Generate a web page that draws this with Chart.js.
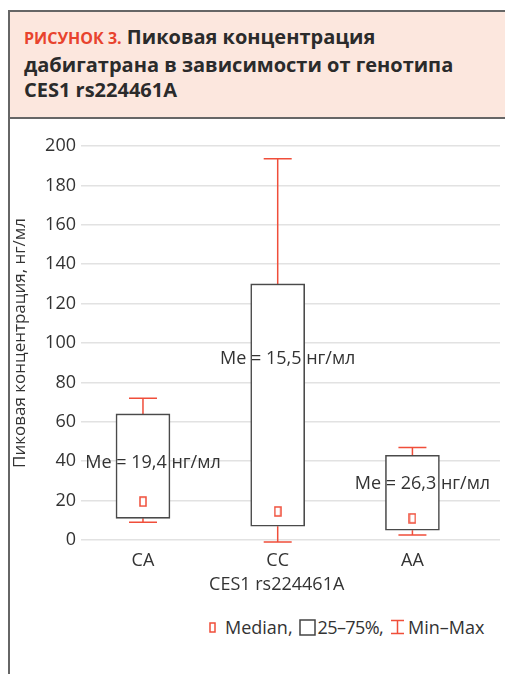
<!DOCTYPE html>
<html>
<head>
<meta charset="utf-8">
<script src="https://cdn.jsdelivr.net/npm/chart.js@4.4.0/dist/chart.umd.min.js"></script>
<style>
    body { margin: 0; width: 505px; height: 674px; overflow: hidden; background: #fff; font-family: "Open Sans", sans-serif; }
    #frame { position: absolute; left: 8px; top: 10px; width: 520px; height: 700px; border-left: 2px solid #666; border-top: 2px solid #666; }
    #head { position: absolute; left: 10px; top: 12px; width: 495px; height: 105px; background: #fce7de; border-bottom: 2px solid #666; }
    #head h1 { margin: 0; position: absolute; left: 14px; top: 12px; font-size: 20px; line-height: 25.5px; font-weight: 700; color: #2b2b2b; }
    #head h1 .fig { color: #e8432d; font-size: 16px; }
    #wrap { position: absolute; left: 10px; top: 120px; width: 495px; height: 481px; }
    #legend { position: absolute; left: 209px; top: 615px; font-size: 18px; color: #333; white-space: nowrap; display: flex; align-items: center; }
    #legend svg { display: block; }
</style>
</head>
<body>
<div id="frame"></div>
<div id="head"><h1><span class="fig">РИСУНОК 3.</span> Пиковая концентрация<br>дабигатрана в зависимости от генотипа<br>CES1 rs224461A</h1></div>
<div id="wrap"><canvas id="boxChart"></canvas></div>
<div id="legend">
    <svg width="7" height="11" style="margin-right:9px"><rect x="1" y="1" width="5" height="9" fill="#fff" stroke="#f04e3a" stroke-width="1.5"/></svg>
    <span style="margin-right:6px">Median,</span>
    <svg width="17" height="17" style="margin-right:2px"><rect x="1" y="1" width="15" height="15" fill="#fff" stroke="#444" stroke-width="1.5"/></svg>
    <span style="margin-right:7px;letter-spacing:-0.6px">25–75%,</span>
    <svg width="15" height="16" style="margin-right:3px"><path d="M1 1.5H14M7.5 1.5V14.5M1 14.5H14" stroke="#f04e3a" stroke-width="1.5" fill="none"/></svg>
    <span>Min–Max</span>
</div>

<script>
// ข้อมูลจากภาพ (ค่าประมาณ)
const categories = ['CA', 'CC', 'AA'];
const minVals = [9, -1, 2.5];
const q1Vals = [11, 7, 5];
const medianVals = [19.5, 14.5, 11];
const q3Vals = [64, 130, 43];
const maxVals = [72, 193.5, 47];
const medianLabels = ['Me = 19,4 нг/мл', 'Me = 15,5 нг/мл', 'Me = 26,3 нг/мл'];
const labelLevels = [39, 92, 28.5];
const yTicks = [0, 20, 40, 60, 80, 100, 120, 140, 160, 180, 200];

const RED = '#f04e3a';
const TEXT = '#333';
const FONT = '"Open Sans", sans-serif';

// marker ค่ามัธยฐาน (สี่เหลี่ยมกลวง)
const medMark = document.createElement('canvas');
medMark.width = 8; medMark.height = 11;
(() => {
    const c = medMark.getContext('2d');
    c.strokeStyle = RED; c.lineWidth = 1.5;
    c.fillStyle = '#fff';
    c.fillRect(1, 1, 6, 9);
    c.strokeRect(1, 1, 6, 9);
})();

// whiskers + labels
const boxExtras = {
    id: 'boxExtras',
    beforeDatasetsDraw(chart) {
        const { ctx, scales: { x, y } } = chart;
        ctx.save();
        ctx.strokeStyle = RED;
        ctx.lineWidth = 1.5;
        categories.forEach((c, i) => {
            const px = x.getPixelForValue(i);
            const cap = 14;
            ctx.beginPath();
            ctx.moveTo(px, y.getPixelForValue(q3Vals[i]));
            ctx.lineTo(px, y.getPixelForValue(maxVals[i]));
            ctx.moveTo(px - cap, y.getPixelForValue(maxVals[i]));
            ctx.lineTo(px + cap, y.getPixelForValue(maxVals[i]));
            ctx.moveTo(px, y.getPixelForValue(q1Vals[i]));
            ctx.lineTo(px, y.getPixelForValue(minVals[i]));
            ctx.moveTo(px - cap, y.getPixelForValue(minVals[i]));
            ctx.lineTo(px + cap, y.getPixelForValue(minVals[i]));
            ctx.stroke();
        });
        ctx.restore();
    },
    afterDatasetsDraw(chart) {
        const { ctx, chartArea, scales: { x, y } } = chart;
        ctx.save();
        ctx.fillStyle = TEXT;
        ctx.font = '18px ' + FONT;
        ctx.textAlign = 'center';
        ctx.textBaseline = 'middle';
        categories.forEach((c, i) => {
            ctx.fillText(medianLabels[i], x.getPixelForValue(i) + 10, y.getPixelForValue(labelLevels[i]));
        });
        // ชื่อแกน X
        ctx.fillText('CES1 rs224461A', x.getPixelForValue(1) - 1, chartArea.bottom + 45);
        ctx.restore();
    }
};

new Chart(document.getElementById('boxChart'), {
    type: 'bar',
    data: {
        datasets: [
            {
                type: 'scatter',
                label: 'Median',
                data: categories.map((c, i) => ({ x: i, y: medianVals[i] })),
                pointStyle: medMark,
                order: 0
            },
            {
                label: '25–75%',
                data: categories.map((c, i) => ({ x: i, y: [q1Vals[i], q3Vals[i]] })),
                backgroundColor: '#fff',
                borderColor: '#4a4a4a',
                borderWidth: 1.6,
                borderSkipped: false,
                barThickness: 54,
                order: 1
            }
        ]
    },
    options: {
        responsive: true,
        maintainAspectRatio: false,
        animation: false,
        layout: { padding: { top: 26, right: 5, left: 0, bottom: 0 } },
        plugins: { legend: { display: false }, tooltip: { enabled: false } },
        scales: {
            x: {
                type: 'linear',
                offset: false,
                min: -0.46,
                max: 2.65,
                afterBuildTicks: s => { s.ticks = categories.map((c, i) => ({ value: i })); },
                afterFit: s => { s.height = 61; },
                ticks: {
                    callback: v => categories[v] ?? '',
                    color: TEXT,
                    font: { family: FONT, size: 18 },
                    padding: 2,
                    maxRotation: 0
                },
                grid: { display: false },
                border: { display: false }
            },
            y: {
                min: 0,
                max: 200,
                afterBuildTicks: s => { s.ticks = yTicks.map(v => ({ value: v })); },
                afterFit: s => { s.width = 71; },
                ticks: {
                    color: TEXT,
                    font: { family: FONT, size: 18 },
                    padding: 5
                },
                grid: { color: '#e2e2e2', lineWidth: 1.5, drawTicks: false },
                border: { display: false },
                title: {
                    display: true,
                    text: 'Пиковая концентрация, нг/мл',
                    color: TEXT,
                    font: { family: FONT, size: 17 },
                    padding: 0
                }
            }
        }
    },
    plugins: [boxExtras]
});
</script>
</body>
</html>
